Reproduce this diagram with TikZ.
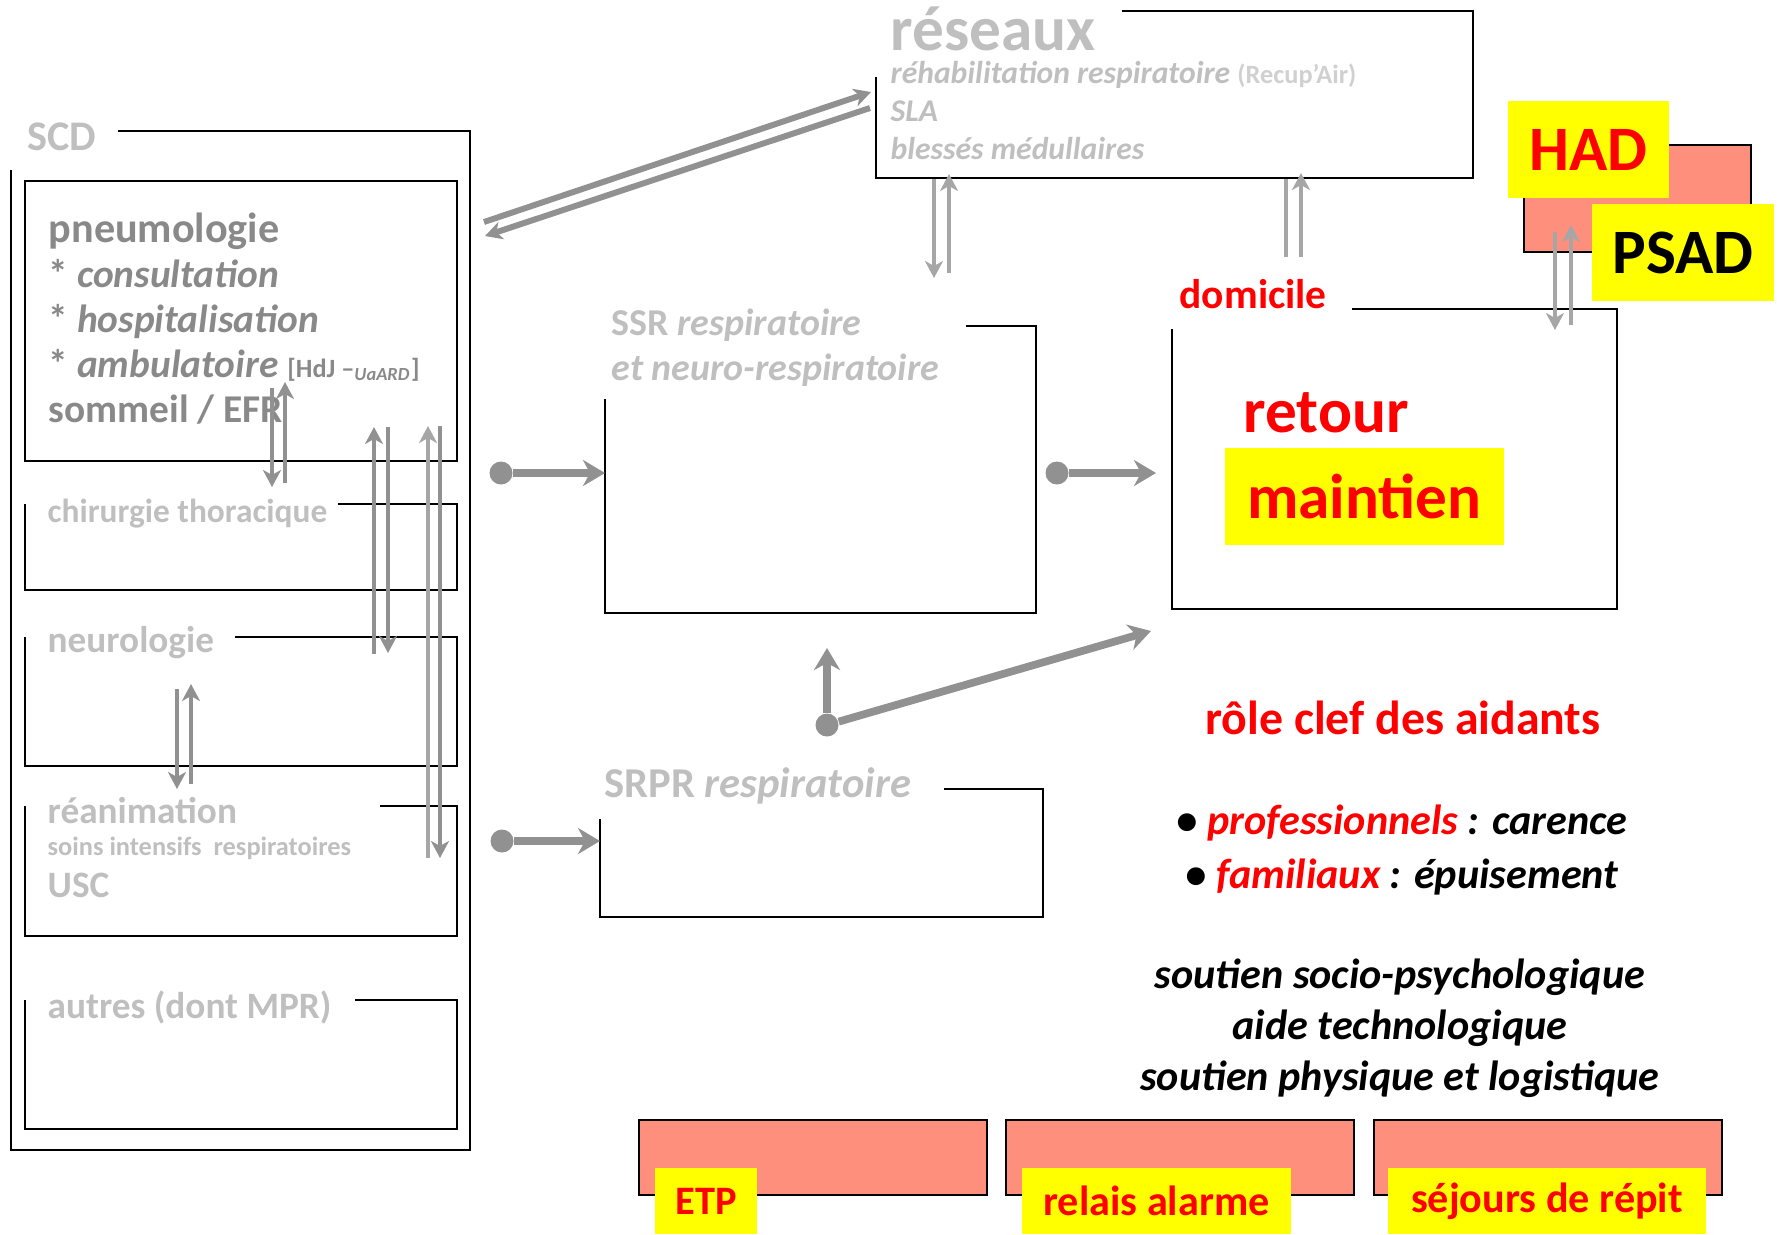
\documentclass[tikz,border=0pt]{standalone}
\usepackage{fontspec}
\setmainfont{Carlito}
\usepackage{xcolor}
\usepackage{tikz}
\usetikzlibrary{arrows.meta, calc}

\definecolor{unitgray}{RGB}{137,137,137}
\definecolor{palegray}{RGB}{191,191,191}
\definecolor{fadegray}{RGB}{208,208,208}
\definecolor{arrowdark}{RGB}{145,145,145}
\definecolor{arrowlight}{RGB}{166,166,166}
\definecolor{salmon}{RGB}{255,143,125}
\definecolor{marker}{RGB}{255,255,0}

\newcommand{\fsize}[2]{\fontsize{#1}{#2}\selectfont}

\begin{document}
\begin{tikzpicture}[
    % Styles
    zone/.style={rectangle, inner sep=0pt, outer sep=0pt},
    frameline/.style={draw=black, line width=0.7pt},
    heading/.style={anchor=base west, inner sep=0pt, text=palegray, font=\bfseries},
    yellowtag/.style={rectangle, fill=marker, inner sep=0pt, text=red, font=\bfseries\fsize{18}{20}},
    salmonpad/.style={rectangle, draw=black, line width=0.6pt, fill=salmon},
    flowdot/.style={circle, fill=arrowdark, minimum size=2.3mm, inner sep=0pt},
    flow/.style={-{Stealth[length=2.2mm, width=2.6mm, inset=0.7mm]}, line width=2.2pt, draw=arrowdark},
    link/.style={-{Stealth[length=1.7mm, width=1.8mm, inset=0.5mm]}, line width=1.4pt, draw=arrowdark},
    linklight/.style={link, draw=arrowlight}
]
\useasboundingbox (0,0) rectangle (17.77,-12.34);

% SCD
\node[zone, minimum width=4.59cm, minimum height=10.19cm] (scd) at (2.405,-6.405) {};
\draw[frameline] ($(scd.north west)+(1.07,0)$) -| (scd.south east) -| ($(scd.north west)+(0,-0.39)$);
\node[heading, font=\bfseries\fsize{12}{14}] (scdtxt) at (0.27,-1.50) {SCD};

% pneumologie (multi-line nodes sit on their last baseline)
\node[zone, draw=black, line width=0.7pt, minimum width=4.32cm, minimum height=2.80cm] (pneumo) at (2.41,-3.21) {};
\node[heading, align=left, text=unitgray, font=\bfseries\fsize{11.2}{12.8}] (pneumotxt) at (0.48,-4.22) {{\fsize{12}{12.8}pneumologie}\\
    * \textit{consultation}\\
    * \textit{hospitalisation}\\
    * \textit{ambulatoire} {\fsize{7.5}{8}[HdJ --\textsubscript{\itshape UaARD}]}\\
    sommeil / EFR};

% chirurgie thoracique
\node[zone, minimum width=4.32cm, minimum height=0.86cm] (chir) at (2.41,-5.47) {};
\draw[frameline] ($(chir.north west)+(3.13,0)$) -| (chir.south east) -| (chir.north west);
\node[heading, font=\bfseries\fsize{9.5}{11}] (chirtxt) at (0.47,-5.22) {chirurgie thoracique};

% neurologie
\node[zone, minimum width=4.32cm, minimum height=1.29cm] (neuro) at (2.41,-7.015) {};
\draw[frameline] ($(neuro.north west)+(2.10,0)$) -| (neuro.south east) -| (neuro.north west);
\node[heading, font=\bfseries\fsize{10.6}{12}] (neurotxt) at (0.47,-6.52) {neurologie};

% reanimation
\node[zone, minimum width=4.32cm, minimum height=1.30cm] (reanim) at (2.41,-8.71) {};
\draw[frameline] ($(reanim.north west)+(3.55,0)$) -| (reanim.south east) -| (reanim.north west);
\node[heading, font=\bfseries\fsize{10.6}{12}] (reanimtxt) at (0.47,-8.23) {réanimation};
\node[heading, font=\bfseries\fsize{7.5}{9}] (soinstxt) at (0.47,-8.55) {soins intensifs\ \ respiratoires};
\node[heading, font=\bfseries\fsize{10.6}{12}] (usctxt) at (0.47,-8.97) {USC};

% autres
\node[zone, minimum width=4.32cm, minimum height=1.29cm] (autres) at (2.41,-10.645) {};
\draw[frameline] ($(autres.north west)+(3.30,0)$) -| (autres.south east) -| (autres.north west);
\node[heading, font=\bfseries\fsize{10.6}{12}] (autrestxt) at (0.47,-10.18) {autres (dont MPR)};

% reseaux
\node[zone, minimum width=5.97cm, minimum height=1.67cm] (reseaux) at (11.745,-0.945) {};
\draw[frameline] ($(reseaux.north west)+(2.46,0)$) -| (reseaux.south east) -| ($(reseaux.north west)+(0,-0.66)$);
\node[heading, font=\bfseries\fsize{18}{20}] (reseauxtxt) at (8.90,-0.50) {réseaux};
\node[heading, align=left, font=\bfseries\itshape\fsize{9}{10.7}] (reseauxlist) at (8.90,-1.59) {réhabilitation respiratoire {\upshape\color{fadegray}\fsize{7.5}{10.7}(Recup’Air)}\\
    SLA\\
    blessés médullaires};

% SSR
\node[zone, minimum width=4.31cm, minimum height=2.87cm] (ssr) at (8.205,-4.695) {};
\draw[frameline] ($(ssr.north west)+(3.61,0)$) -| (ssr.south east) -| ($(ssr.north west)+(0,-0.73)$);
\node[heading, align=left, font=\bfseries\fsize{10.8}{12.8}] (ssrtxt) at (6.11,-3.80) {SSR \textit{respiratoire}\\ \textit{et neuro-respiratoire}};

% SRPR
\node[zone, minimum width=4.43cm, minimum height=1.28cm] (srpr) at (8.215,-8.53) {};
\draw[frameline] ($(srpr.north west)+(3.44,0)$) -| (srpr.south east) -| ($(srpr.north west)+(0,-0.30)$);
\node[heading, font=\bfseries\fsize{12.1}{14}] (srprtxt) at (6.04,-7.97) {SRPR \textit{respiratoire}};

% domicile
\node[zone, minimum width=4.45cm, minimum height=3.00cm] (dom) at (13.945,-4.59) {};
\draw[frameline] ($(dom.north west)+(1.80,0)$) -| (dom.south east) -| ($(dom.north west)+(0,-0.20)$);
\node[heading, text=red, font=\bfseries\fsize{11.8}{14}] (domtxt) at (11.79,-3.08) {domicile};
\node[heading, text=red, font=\bfseries\fsize{18}{20}] (retour) at (12.43,-4.32) {retour};
\node[yellowtag, minimum width=2.79cm, minimum height=0.97cm] (maintien) at (13.645,-4.965) {maintien};

% HAD / PSAD
\node[salmonpad, minimum width=2.27cm, minimum height=1.07cm] (hadpad) at (16.375,-1.985) {};
\node[yellowtag, minimum width=1.61cm, minimum height=0.97cm] (had) at (15.885,-1.495) {HAD};
\node[yellowtag, text=black, minimum width=1.82cm, minimum height=0.97cm] (psad) at (16.83,-2.525) {PSAD};

% aidants
\node[anchor=base, inner sep=0pt, text=red, font=\bfseries\fsize{13.6}{16}] (role) at (14.03,-7.34) {rôle clef des aidants};
\node[anchor=base, inner sep=0pt, align=center, font=\bfseries\itshape\fsize{12}{15.1}] (aidants) at (14.02,-8.88) {\textbullet\ \textcolor{red}{professionnels} : carence\\
    \textbullet\ \textcolor{red}{familiaux} : épuisement};
\node[anchor=base, inner sep=0pt, align=center, font=\bfseries\itshape\fsize{12}{14.4}] (soutien) at (14.00,-10.90) {soutien socio-psychologique\\
    aide technologique\\
    soutien physique et logistique};

% bottom pads
\node[salmonpad, minimum width=3.48cm, minimum height=0.75cm] (etppad) at (8.13,-11.575) {};
\node[salmonpad, minimum width=3.48cm, minimum height=0.75cm] (relaispad) at (11.80,-11.575) {};
\node[salmonpad, minimum width=3.48cm, minimum height=0.75cm] (sejourpad) at (15.48,-11.575) {};
\node[yellowtag, font=\bfseries\fsize{11.5}{13}, minimum width=1.02cm, minimum height=0.66cm] (etp) at (7.06,-12.01) {ETP};
\node[yellowtag, font=\bfseries\fsize{12}{13}, minimum width=2.69cm, minimum height=0.66cm] (relais) at (11.565,-12.01) {relais alarme};
\node[yellowtag, font=\bfseries\fsize{12}{13}, minimum width=3.18cm, minimum height=0.66cm] (sejour) at (15.47,-12.01) {séjours de répit};

% arrow ends
\coordinate (pc1) at (2.72,-3.88);  \coordinate (pc2) at (2.72,-4.87);
\coordinate (pc3) at (2.85,-4.83);  \coordinate (pc4) at (2.85,-3.82);
\coordinate (pn1) at (3.74,-6.54);  \coordinate (pn2) at (3.74,-4.27);
\coordinate (pn3) at (3.88,-4.27);  \coordinate (pn4) at (3.88,-6.53);
\coordinate (pr1) at (4.28,-8.58);  \coordinate (pr2) at (4.28,-4.26);
\coordinate (pr3) at (4.40,-4.26);  \coordinate (pr4) at (4.40,-8.58);
\coordinate (nr1) at (1.77,-6.89);  \coordinate (nr2) at (1.77,-7.89);
\coordinate (nr3) at (1.91,-7.84);  \coordinate (nr4) at (1.91,-6.84);
\coordinate (rs1) at (9.34,-1.79);  \coordinate (rs2) at (9.34,-2.78);
\coordinate (rs3) at (9.49,-2.73);  \coordinate (rs4) at (9.49,-1.74);
\coordinate (rd1) at (12.86,-2.57); \coordinate (rd2) at (12.86,-1.79);
\coordinate (rd3) at (13.01,-2.57); \coordinate (rd4) at (13.01,-1.73);
\coordinate (hd1) at (15.55,-2.32); \coordinate (hd2) at (15.55,-3.30);
\coordinate (hd3) at (15.71,-3.25); \coordinate (hd4) at (15.71,-2.25);
\coordinate (sr1) at (4.84,-2.22);  \coordinate (sr2) at (8.71,-0.92);
\coordinate (sr3) at (8.70,-1.08);  \coordinate (sr4) at (4.85,-2.36);
\coordinate (domin) at (11.56,-4.73);
\coordinate (ssrin) at (8.27,-6.48);
\coordinate (domlow) at (11.51,-6.31);

% dots
\node[flowdot] (d1) at (5.01,-4.73) {};
\node[flowdot] (d2) at (10.57,-4.73) {};
\node[flowdot] (d3) at (5.02,-8.41) {};
\node[flowdot] (d4) at (8.27,-7.25) {};

% arrows
\draw[link] (pc1) -- (pc2);
\draw[link] (pc3) -- (pc4);
\draw[link] (pn1) -- (pn2);
\draw[link] (pn3) -- (pn4);
\draw[linklight] (pr1) -- (pr2);
\draw[link] (pr3) -- (pr4);
\draw[link] (nr1) -- (nr2);
\draw[link] (nr3) -- (nr4);
\draw[linklight] (rs1) -- (rs2);
\draw[linklight] (rs3) -- (rs4);
\draw[linklight, -] (rd1) -- (rd2);
\draw[linklight] (rd3) -- (rd4);
\draw[linklight] (hd1) -- (hd2);
\draw[linklight] (hd3) -- (hd4);
\draw[link, line width=1.7pt] (sr1) -- (sr2);
\draw[link, line width=1.7pt] (sr3) -- (sr4);
\draw[flow] (d1) -- (ssr.west |- d1);
\draw[flow] (d2) -- (domin);
\draw[flow] (d3) -- (srpr.west |- d3);
\draw[flow] (d4) -- (ssrin);
\draw[flow] (d4) -- (domlow);

\end{tikzpicture}
\end{document}
